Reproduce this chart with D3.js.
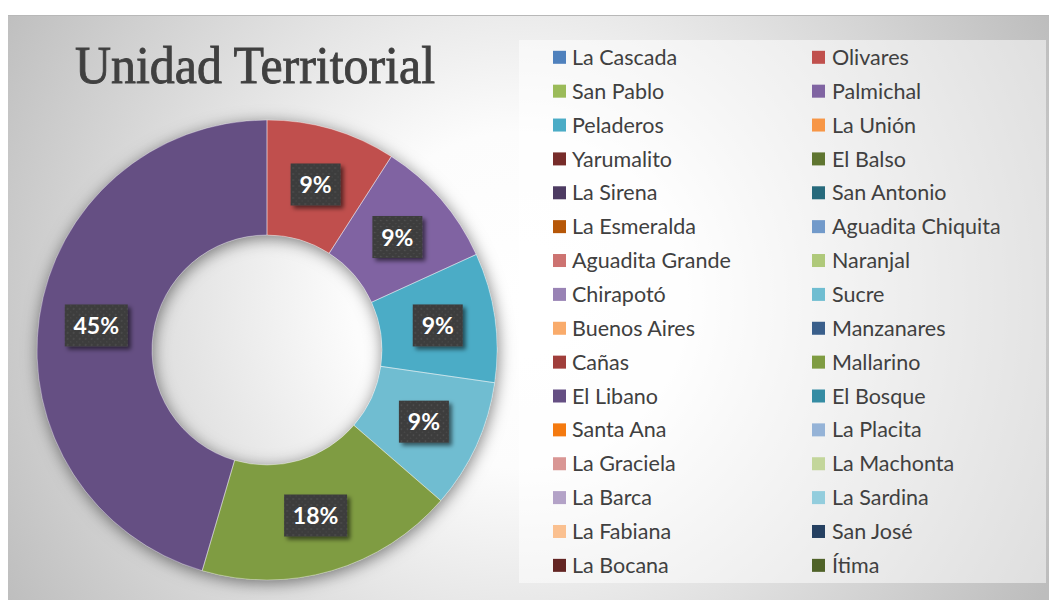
<!DOCTYPE html>
<html>
<head>
<meta charset="utf-8">
<script src="https://cdn.jsdelivr.net/npm/d3@7/dist/d3.min.js"></script>
<style>
  html, body { margin: 0; padding: 0; background: #ffffff; }
  svg { display: block; }
</style>
</head>
<body>
<svg id="chart" width="1049" height="600"></svg>
<script>
// Territorial units (legend order) and their counts
const categories = [
  "La Cascada", "Olivares", "San Pablo", "Palmichal", "Peladeros", "La Unión",
  "Yarumalito", "El Balso", "La Sirena", "San Antonio", "La Esmeralda", "Aguadita Chiquita",
  "Aguadita Grande", "Naranjal", "Chirapotó", "Sucre", "Buenos Aires", "Manzanares",
  "Cañas", "Mallarino", "El Libano", "El Bosque", "Santa Ana", "La Placita",
  "La Graciela", "La Machonta", "La Barca", "La Sardina", "La Fabiana", "San José",
  "La Bocana", "Ítima"
];
const values = [
  0, 1, 0, 1, 1, 0,
  0, 0, 0, 0, 0, 0,
  0, 0, 0, 1, 0, 0,
  0, 2, 5, 0, 0, 0,
  0, 0, 0, 0, 0, 0,
  0, 0
];
const colors = [
  "#4F81BD", "#C0504D", "#9BBB59", "#8064A2", "#4BACC6", "#F79646",
  "#772C2A", "#5F7530", "#4D3B62", "#276A7C", "#B65708", "#729ACA",
  "#CD7371", "#AFC97A", "#9983B5", "#6FBDD1", "#F9AB6B", "#3A5F8B",
  "#A03E3B", "#7F9C42", "#654F83", "#358CA3", "#F47A10", "#95B3D7",
  "#D99694", "#C3D69B", "#B3A2C7", "#93CDDD", "#FAC090", "#254061",
  "#632523", "#4F6228"
];
const title = "Unidad Territorial";

const W = 1049, H = 600;
const svg = d3.select("#chart");
const defs = svg.append("defs");

// background radial gradient
const bg = defs.append("radialGradient").attr("id", "bgGrad")
  .attr("gradientUnits", "userSpaceOnUse")
  .attr("cx", 520).attr("cy", 300).attr("r", 600);
bg.append("stop").attr("offset", 0).attr("stop-color", "#ffffff");
bg.append("stop").attr("offset", 0.28).attr("stop-color", "#fcfcfc");
bg.append("stop").attr("offset", 1).attr("stop-color", "#bdbdbd");

// soft shadow around the ring
const ringShadow = defs.append("filter").attr("id", "ringShadow")
  .attr("x", "-20%").attr("y", "-20%").attr("width", "140%").attr("height", "140%");
ringShadow.append("feDropShadow").attr("dx", 1).attr("dy", 3)
  .attr("stdDeviation", 8).attr("flood-color", "#000").attr("flood-opacity", 0.5);

// label box shadow
const boxShadow = defs.append("filter").attr("id", "boxShadow")
  .attr("x", "-30%").attr("y", "-30%").attr("width", "160%").attr("height", "160%");
boxShadow.append("feDropShadow").attr("dx", 3).attr("dy", 3)
  .attr("stdDeviation", 2).attr("flood-color", "#000").attr("flood-opacity", 0.55);

// dotted dark fill of the label boxes
const pat = defs.append("pattern").attr("id", "dots")
  .attr("patternUnits", "userSpaceOnUse").attr("width", 6).attr("height", 6);
pat.append("rect").attr("width", 6).attr("height", 6).attr("fill", "#3d3d3d");
pat.append("circle").attr("cx", 1.5).attr("cy", 1.5).attr("r", 0.8).attr("fill", "#575757");
pat.append("circle").attr("cx", 4.5).attr("cy", 4.5).attr("r", 0.8).attr("fill", "#4b4b4b");

// chart area
svg.append("rect").attr("x", 8).attr("y", 15).attr("width", W - 8).attr("height", H - 15)
  .attr("fill", "url(#bgGrad)");
svg.append("line").attr("x1", 8).attr("x2", W).attr("y1", 15.5).attr("y2", 15.5)
  .attr("stroke", "#b8b8b8").attr("stroke-width", 1);

// title
svg.append("text")
  .attr("x", 75).attr("y", 83)
  .attr("textLength", 360).attr("lengthAdjust", "spacingAndGlyphs")
  .style("font-family", "'Liberation Serif', 'DejaVu Serif', serif")
  .style("font-size", "53px")
  .style("fill", "#404040")
  .style("stroke", "#404040").style("stroke-width", 0.9)
  .text(title);

// donut
const cx = 267, cy = 350, outerR = 230, innerR = 115;
const total = d3.sum(values);
const pie = d3.pie().sort(null).value(d => d.value);
const data = categories.map((c, i) => ({ name: c, value: values[i], color: colors[i] }));
const arcs = pie(data).filter(d => d.value > 0);
const arc = d3.arc().innerRadius(innerR).outerRadius(outerR);
const labelArc = d3.arc().innerRadius((innerR + outerR) / 2).outerRadius((innerR + outerR) / 2);

const g = svg.append("g").attr("transform", `translate(${cx},${cy})`);
g.append("g").attr("filter", "url(#ringShadow)")
  .selectAll("path").data(arcs).join("path")
  .attr("d", arc)
  .attr("fill", d => d.data.color);
g.append("g").selectAll("path").data(arcs).join("path")
  .attr("d", arc)
  .attr("fill", "none")
  .attr("stroke", "#ffffff").attr("stroke-opacity", 0.45).attr("stroke-width", 0.8);

// percentage labels
const fmt = d3.format(".0%");
const lab = g.append("g").selectAll("g").data(arcs).join("g")
  .attr("transform", d => `translate(${labelArc.centroid(d)})`);
lab.each(function (d) {
  const s = d3.select(this);
  const txt = fmt(d.value / total);
  const w = txt.length > 2 ? 63 : 50, h = 42;
  s.append("rect").attr("x", -w / 2).attr("y", -h / 2).attr("width", w).attr("height", h)
    .attr("fill", "url(#dots)").attr("filter", "url(#boxShadow)");
  s.append("text")
    .attr("text-anchor", "middle").attr("y", 8.5)
    .style("font-family", "Lato, 'Open Sans', sans-serif")
    .style("font-weight", "bold").style("font-size", "23px")
    .style("fill", "#ffffff")
    .text(txt);
});

// legend
svg.append("rect").attr("x", 519).attr("y", 40).attr("width", 527).attr("height", 543)
  .attr("fill", "#ffffff").attr("fill-opacity", 0.5);
const colX = [553, 812], textX = [572, 832], row0 = 57.3, rowStep = 33.87;
const leg = svg.append("g").selectAll("g").data(data).join("g")
  .attr("transform", (d, i) => `translate(0,${row0 + Math.floor(i / 2) * rowStep})`);
leg.append("rect")
  .attr("x", (d, i) => colX[i % 2]).attr("y", -6.5)
  .attr("width", 13).attr("height", 13)
  .attr("fill", d => d.color);
leg.append("text")
  .attr("x", (d, i) => textX[i % 2]).attr("y", 7.6)
  .style("font-family", "Lato, 'Open Sans', sans-serif")
  .style("font-size", "21.5px")
  .style("fill", "#404040")
  .text(d => d.name);
</script>
</body>
</html>
